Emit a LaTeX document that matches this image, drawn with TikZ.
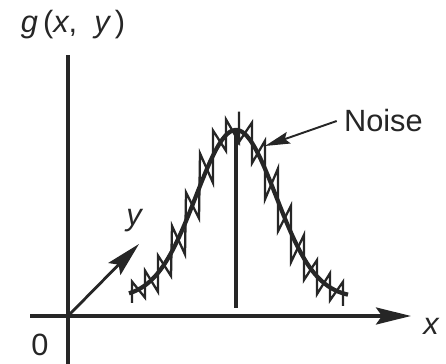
\documentclass[tikz,border=0pt]{standalone}
\usepackage{fontspec}
\setmainfont{Liberation Sans}
\usetikzlibrary{arrows.meta}

\begin{document}
\begin{tikzpicture}[
  x=0.02cm, y=0.02cm,
  declare function={
    gc(\t)=66+168*exp(-((\t-236)^2)/3200);
    gs(\t)=-0.105*(\t-236)*exp(-((\t-236)^2)/3200);
    dv(\t,\d)=\d*sqrt(1+gs(\t)^2);
  },
  axis/.style={line width=2pt, black!85},
  curve/.style={line width=2.4pt, black!85},
  noiseline/.style={line width=1.3pt, black!85, line join=miter},
  bigarrow/.style={-{Stealth[length=0.7cm, width=0.34cm, inset=0.12cm]}},
  smallarrow/.style={line width=1.1pt, black!85, -{Stealth[length=0.5cm, width=0.24cm, inset=0.08cm]}},
  lbl/.style={font=\fontsize{17.5}{21}\selectfont, text=black!85, inner sep=1pt}
]
  \useasboundingbox (0,0) rectangle (446,364);

  % Axes
  \coordinate (O) at (68,48);
  \coordinate (xstart) at (30,48);
  \coordinate (xend) at (411,48);
  \coordinate (vtop) at (68,309);
  \coordinate (vbot) at (68,0);
  \coordinate (yend) at (139,120);
  \draw[axis] (vbot) -- (vtop);
  \draw[axis, bigarrow] (xstart) -- (xend);
  \draw[axis, line width=1.6pt, bigarrow] (O) -- (yend);

  % Labels
  \node[lbl] (glab) at (73,339) {\itshape g\,\upshape(\itshape x\upshape,\; \itshape y\upshape\,)};
  \node[lbl] (zero) at (40,19) {0};
  \node[lbl] (xlab) at (431,38) {\itshape x};
  \node[lbl] (ylab) at (134,143) {\itshape y};
  \node[lbl, anchor=west] (noise) at (342,243) {Noise};

  % Signal
  \draw[curve] plot[domain=129:348, samples=90, smooth] (\x, {gc(\x)});
  \coordinate (ptop) at (236,233);
  \coordinate (pbot) at (236,56);
  \draw[axis] (pbot) -- (ptop);

  % Noise: rising side, peak spike, falling side
  \draw[noiseline] (132,{gc(132)-dv(132,10)})
    \foreach \xx/\dd in {132/10,145/12,158/11,172/12,186/11,200/12,213/11,226/11}
      { -- (\xx,{gc(\xx)+dv(\xx,\dd)}) -- (\xx+13,{gc(\xx+13)-dv(\xx+13,\dd)}) }
    -- (239,{gc(239)+dv(239,18)})
    \foreach \xx/\dd in {239/11,252/11,265/12,278/11,291/12,304/11,317/12,330/11}
      { -- (\xx,{gc(\xx)-dv(\xx,\dd)}) -- (\xx+13,{gc(\xx+13)+dv(\xx+13,\dd)}) }
    -- (343,{gc(343)-dv(343,12)});
  \coordinate (noisept) at (265,218);
  \draw[smallarrow] ([xshift=-3]noise.west) -- (noisept);
\end{tikzpicture}
\end{document}
